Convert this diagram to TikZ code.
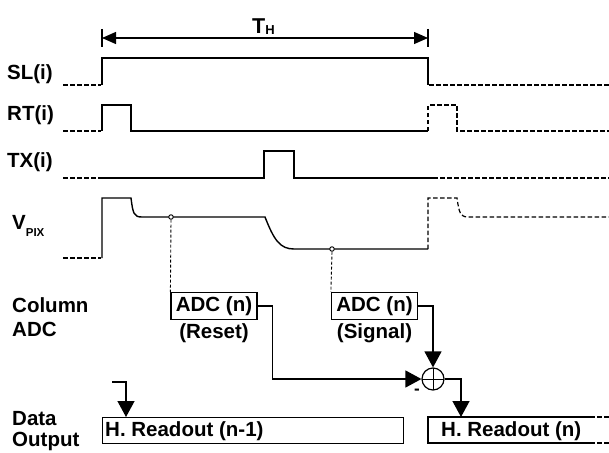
\documentclass[tikz,border=0pt]{standalone}
\usepackage{fontspec}
\setmainfont{Liberation Sans}
\usetikzlibrary{arrows.meta}
\begin{document}
\begin{tikzpicture}[x=1pt,y=-1pt,
  wave/.style={line width=1.4pt, line join=miter},
  dwave/.style={line width=1.2pt, dash pattern=on 4.5pt off 2.5pt},
  thin dash/.style={line width=0.9pt, dash pattern=on 3pt off 2pt},
  lab/.style={anchor=base west, inner sep=0pt, font=\fontsize{20.5}{22}\selectfont\bfseries},
  txt/.style={inner sep=0pt, font=\fontsize{20.5}{22}\selectfont\bfseries},
  adcbox/.style={draw, line width=1.2pt, minimum width=86pt, minimum height=27pt, inner sep=0pt, font=\fontsize{20.5}{22}\selectfont\bfseries},
  conn/.style={line width=1.3pt},
  arr/.style={conn, -{Triangle[length=16pt,width=17pt]}},
  darr/.style={line width=1.3pt, {Triangle[length=14pt,width=12pt]}-{Triangle[length=14pt,width=12pt]}},
  sumnode/.style={circle, draw, line width=1.2pt, minimum size=22pt, inner sep=0pt,
    path picture={\draw[line width=1pt] (path picture bounding box.north) -- (path picture bounding box.south)
      (path picture bounding box.west) -- (path picture bounding box.east);}}
]
\useasboundingbox (0,0) rectangle (609,452);

% labels
\node[lab] (lsl) at (7,79) {SL(i)};
\node[lab] (lrt) at (7,120) {RT(i)};
\node[lab] (ltx) at (7,167) {TX(i)};
\node[lab] (lvp) at (12,229) {V\raisebox{-7pt}{\fontsize{11.5}{11.5}\selectfont\bfseries PIX}};
\node[lab] (lcol) at (12,312) {Column};
\node[lab] (ladc) at (12,336) {ADC};
\node[lab] (ldat) at (12,425) {Data};
\node[lab] (lout) at (12,446) {Output};

% T_H
\coordinate (thl) at (102,38);
\coordinate (thr) at (428,38);
\draw[conn] (102,29) -- (102,47) (428,29) -- (428,47);
\draw[darr] (thl) -- (thr);
\node[lab] (th) at (252,34) {\fontsize{21.5}{22}\selectfont T\raisebox{-1pt}{\fontsize{13}{13}\selectfont\bfseries H}};

% SL(i)
\draw[dwave] (63,85) -- (101,85);
\draw[wave] (102,85) -- (102,58) -- (428,58) -- (428,85);
\draw[dwave] (429,85) -- (609,85);

% RT(i)
\draw[dwave] (63,131) -- (101,131);
\draw[wave] (102,131) -- (102,105) -- (131,105) -- (131,131) -- (428,131);
\draw[dwave] (428,131) -- (428,105) -- (457,105) -- (457,131) -- (609,131);

% TX(i)
\draw[dwave] (63,178) -- (100,178);
\draw[wave] (100,178) -- (264,178) -- (264,151) -- (294,151) -- (294,178) -- (433,178);
\draw[dwave] (433,178) -- (609,178);

% V_PIX
\draw[dwave] (63,258) -- (101,258);
\draw[wave] (102,258) -- (102,198) -- (131,198)
  .. controls (133,214) and (134,217) .. (142,217) -- (265,217)
  .. controls (274,240) and (280,249) .. (294,249) -- (428,249);
\draw[dwave] (428,249) -- (428,198) -- (457,198)
  .. controls (459,212) and (460,217) .. (468,217) -- (609,217);

% ADC boxes
\node[adcbox] (adcr) at (214,306) {ADC (n)};
\node[adcbox] (adcs) at (374.5,306) {ADC (n)};
\node[txt, anchor=base] (lres) at (214,338) {(Reset)};
\node[txt, anchor=base] (lsig) at (374.5,338) {(Signal)};

% sampling points
\node[circle, draw, line width=0.9pt, fill=white, minimum size=4.5pt, inner sep=0pt] (p1) at (171,217) {};
\node[circle, draw, line width=0.9pt, fill=white, minimum size=4.5pt, inner sep=0pt] (p2) at (332,249) {};
\draw[thin dash] (p1.south) -- (adcr.north west);
\draw[thin dash] (p2.south) -- (adcs.north west);

% summing node
\node[sumnode] (sum) at (433,379) {};
\node[inner sep=0pt, font=\bfseries\fontsize{17}{17}\selectfont] (minus) at (417,392) {-};
\draw[arr] (adcr.east) -- ++(15,0) |- (sum.west);
\draw[arr] (adcs.east) -| (sum.north);
\coordinate (hnin) at (461,417);
\draw[arr] (sum.east) -| (hnin);

% H readout boxes
\node[draw, line width=1.2pt, anchor=north west, minimum width=301pt, minimum height=26pt, inner sep=0pt] (hr1) at (102,417) {};
\node[lab] (hr1t) at (105,436) {H. Readout (n-1)};
\coordinate (hin1) at (112,382);
\coordinate (hin2) at (126,417);
\draw[arr] (hin1) -| (hin2);

\node[lab] (hrnt) at (441,436) {H. Readout (n)};
\draw[line width=1.2pt] (590,417) -- (428,417) -- (428,443) -- (590,443);
\draw[dwave] (590,417) -- (609,417) (590,443) -- (609,443);
\end{tikzpicture}
\end{document}
